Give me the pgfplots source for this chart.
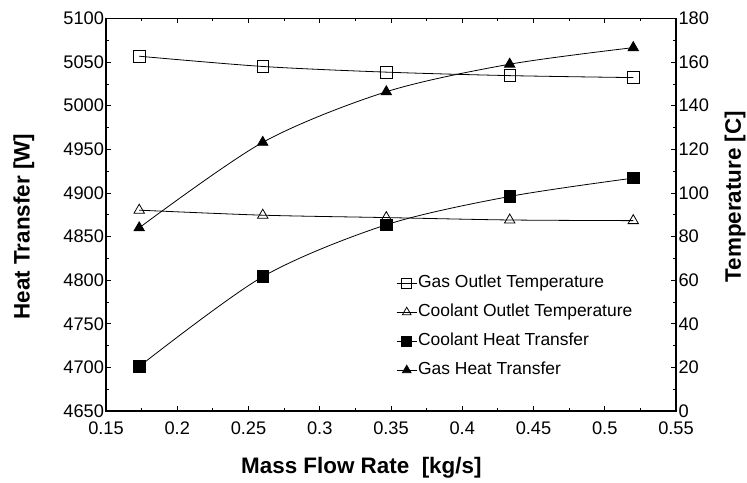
\documentclass[border=0pt]{standalone}
\usepackage{pgfplots}
\pgfplotsset{compat=1.18}
\usepackage{fontspec}
\setmainfont{Liberation Sans}
\begin{document}
\begin{tikzpicture}
\useasboundingbox (-106bp,-72bp) rectangle (641bp,411bp);
\pgfplotsset{
  common/.style={
    scale only axis, width=570bp, height=392.5bp,
    xmin=0.15, xmax=0.55,
    axis line style={line width=1.1pt},
    tick style={black, line width=0.8pt},
    major tick length=5bp, minor tick length=3bp, tick align=inside,
    /pgf/number format/assume math mode=true,
    /pgf/number format/1000 sep={},
    ticklabel style={font=\fontsize{18.3}{21}\selectfont},
    label style={font=\bfseries\fontsize{22.5}{26}\selectfont},
    scaled ticks=false,
    xtick distance=0.05, minor x tick num=1,
  },
  myline/.style={black, line width=0.8bp, smooth},
}
\begin{axis}[common,
  ymin=4650, ymax=5100, ytick distance=50, minor y tick num=1,
  ytick pos=left,
  xlabel={Mass Flow Rate\ \ [kg/s]},
  xlabel style={at={(axis description cs:0.448,-0.145)}, anchor=center},
  ylabel={Heat Transfer [W]},
  ylabel style={at={(axis description cs:-0.144,0.47)}, anchor=center},
  xticklabel style={anchor=center, yshift=-17bp},
  yticklabel style={anchor=east, xshift=1.5bp},
]
\addplot[myline, mark=square*, mark size=5.8pt, mark options={solid, fill=black}] coordinates {
(0.1733,4701) (0.26,4804) (0.3467,4863.5) (0.4333,4896) (0.52,4917)};
\addplot[myline, mark=triangle*, mark size=6pt, mark options={solid, fill=black}] coordinates {
(0.1733,4860) (0.26,4958) (0.3467,5016) (0.4333,5047.6) (0.52,5066.6)};
\end{axis}
\begin{axis}[common,
  hide x axis,
  ymin=0, ymax=180, ytick distance=20, minor y tick num=1,
  ytick pos=right, yticklabel pos=right,
  ylabel={Temperature [C]},
  ylabel style={at={(axis description cs:1.1035,0.546)}, anchor=center, rotate=0},
  yticklabel style={xshift=-1bp},
  legend cell align=left,
  legend style={draw=none, fill=none, at={(axis description cs:0.509,0.349)}, anchor=north west,
    font=\fontsize{17.5}{20}\selectfont, row sep=11bp, inner sep=0pt,
    nodes={text height=12bp, text depth=4bp, inner ysep=1bp, inner xsep=1bp}},
  legend image code/.code={\draw[mark repeat=2, mark phase=2, #1, mark size=5pt] plot coordinates {(0bp,0bp) (10bp,0bp) (20bp,0bp)};},
]
\addplot[myline, mark=square, mark size=5.8pt, mark options={solid, fill=white}] coordinates {
(0.1733,162.7) (0.26,158.0) (0.3467,155.4) (0.4333,153.8) (0.52,152.9)};
\addlegendentry{Gas Outlet Temperature}
\addplot[myline, mark=triangle, mark size=6pt, mark options={solid, fill=white}] coordinates {
(0.1733,92.1) (0.26,89.8) (0.3467,88.7) (0.4333,87.6) (0.52,87.3)};
\addlegendentry{Coolant Outlet Temperature}
\addlegendimage{black, line width=0.8bp, mark=square*, mark options={fill=black}}
\addlegendentry{Coolant Heat Transfer}
\addlegendimage{black, line width=0.8bp, mark=triangle*, mark options={fill=black}}
\addlegendentry{Gas Heat Transfer}
\end{axis}
\end{tikzpicture}
\end{document}
